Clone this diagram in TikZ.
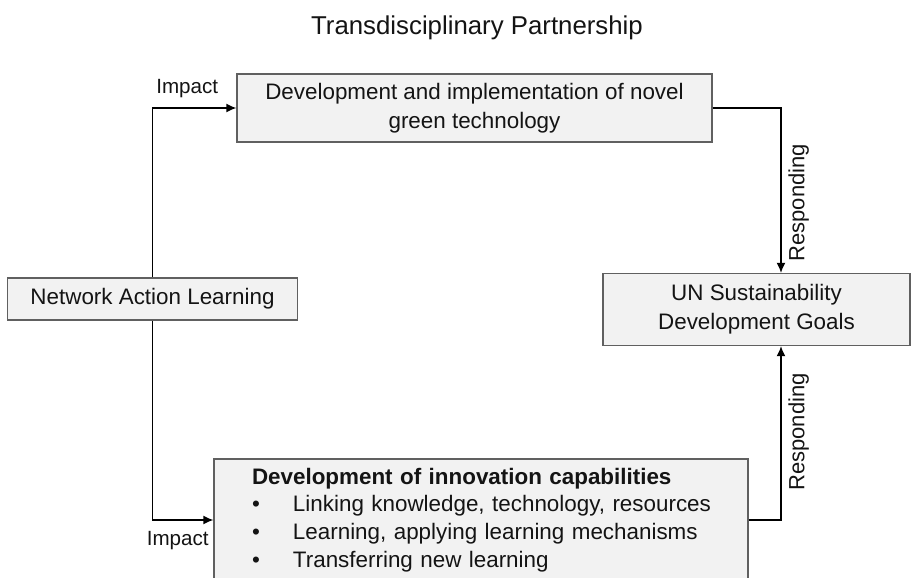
\documentclass[tikz,border=0pt]{standalone}
\usepackage{fontspec}
\setmainfont{Liberation Sans}
\usepackage{tikz}
\usetikzlibrary{arrows.meta, calc}
\definecolor{boxGray}{RGB}{242,242,242}
\definecolor{edgeGray}{RGB}{96,96,96}
\definecolor{inkBlack}{RGB}{20,20,20}
\def\unit{0.5pt}

\begin{document}
\begin{tikzpicture}[x=\unit, y=-\unit,
	box/.style={draw=edgeGray, fill=boxGray, line width=0.6pt, text=inkBlack, align=center, inner sep=0pt, font=\fontsize{11.2}{14.3}\selectfont},
	flow/.style={line width=0.8pt, arrows={-Latex[length=5pt,width=4.5pt]}},
	tag/.style={text=inkBlack, font=\fontsize{10.3}{12}\selectfont}]
	\useasboundingbox (0,0) rectangle (911,578);
	\coordinate (R) at (781,0);
	\coordinate (T) at (477,34);

	\node[anchor=base, text=inkBlack, font=\fontsize{12.9}{15}\selectfont] (title) at (T) {Transdisciplinary Partnership};

	\node[box, minimum width=237.5pt, minimum height=34pt] (tech) at (474.5,108) {Development and implementation of novel\\green technology};
	\node[box, minimum width=145pt, minimum height=21pt] (nal) at (152.5,299) {Network Action Learning};
	\node[box, minimum width=153.5pt, minimum height=36pt] (sdg) at (756.5,309.5) {UN Sustainability\\Development Goals};
	\node[box, text width=257pt, inner xsep=5pt, align=left, minimum height=61pt, font=\fontsize{11.2}{13.9}\selectfont] (cap) at (481,520) {\leftskip=14pt
		\textbf{Development of innovation capabilities}\\
		\makebox[20.5pt][l]{\textbullet}Linking knowledge, technology, resources\\
		\makebox[20.5pt][l]{\textbullet}Learning, applying learning mechanisms\\
		\makebox[20.5pt][l]{\textbullet}Transferring new learning\par};

	\draw[flow] (nal.north) |- node[tag, pos=0.707, above=1.5pt] (impTop) {Impact} (tech.west);
	\draw[flow] (nal.south) |- node[tag, pos=0.707, below=2pt] (impBot) {Impact} (cap.west);
	\draw[flow] (tech.east) -| node[tag, pos=0.787, rotate=90, anchor=north, font=\fontsize{11}{12}\selectfont] (resTop) {Responding} (sdg.north -| R);
	\draw[flow] (cap.east) -| node[tag, pos=0.753, rotate=90, anchor=north, font=\fontsize{11}{12}\selectfont] (resBot) {Responding} (sdg.south -| R);
\end{tikzpicture}
\end{document}
